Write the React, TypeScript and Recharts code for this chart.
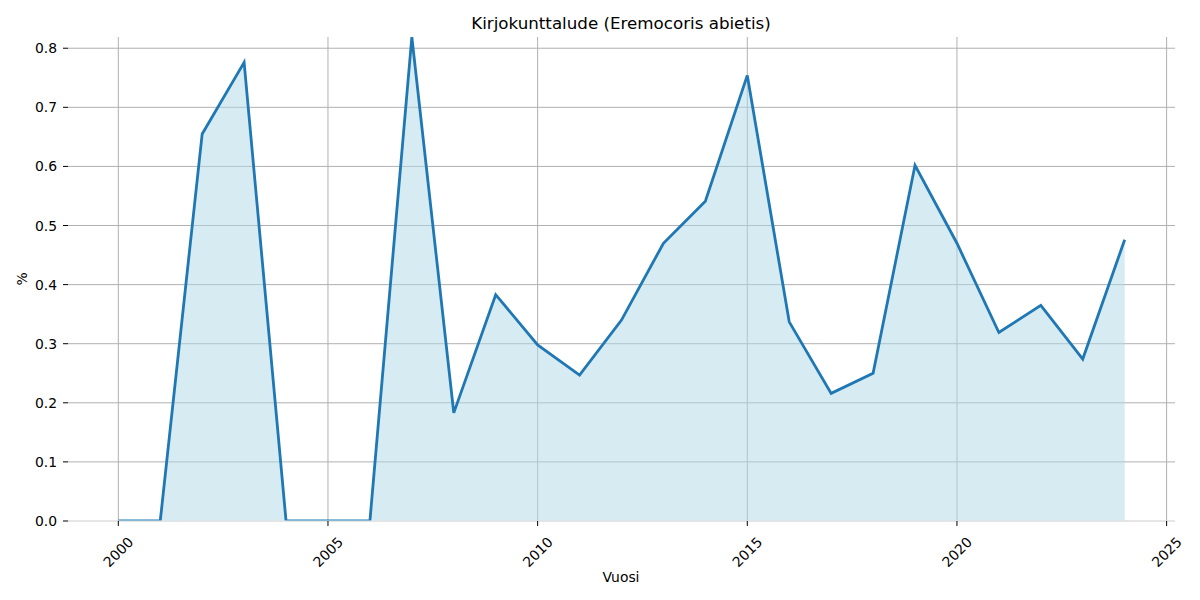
import React from "react";
import { ComposedChart, Area, XAxis, YAxis, CartesianGrid } from "recharts";

const years = [2000,2001,2002,2003,2004,2005,2006,2007,2008,2009,2010,2011,2012,2013,2014,2015,2016,2017,2018,2019,2020,2021,2022,2023,2024];
const values = [0,0,0.655,0.776,0,0,0,0.819,0.183,0.383,0.298,0.247,0.34,0.47,0.541,0.754,0.337,0.216,0.25,0.602,0.47,0.319,0.365,0.274,0.476];
const xTicks = [2000,2005,2010,2015,2020,2025];
const yTicks = [0,0.1,0.2,0.3,0.4,0.5,0.6,0.7,0.8];
const title = "Kirjokunttalude (Eremocoris abietis)";
const xLabel = "Vuosi";
const yLabel = "%";

const data = years.map((y, i) => ({ year: y, value: values[i] }));

const FONT = "DejaVu Sans";

const XTick = (props: any) => {
  const { x, y, payload } = props;
  const cx = x;
  const cy = y + 24;
  return (
    <text
      x={cx}
      y={cy}
      textAnchor="middle"
      dominantBaseline="central"
      transform={`rotate(-45 ${cx} ${cy})`}
      fontFamily={FONT}
      fontSize={13.9}
      fill="#000"
    >
      {payload.value}
    </text>
  );
};

const YTick = (props: any) => {
  const { x, y, payload } = props;
  return (
    <text x={x} y={y} textAnchor="end" dominantBaseline="central" fontFamily={FONT} fontSize={13.9} fill="#000">
      {Number(payload.value).toFixed(1)}
    </text>
  );
};

export default function App() {
  return (
    <div style={{ position: "absolute", left: 0, top: 0, width: 1200, height: 600, background: "#fff" }}>
      <ComposedChart
        width={1200}
        height={600}
        data={data}
        margin={{ top: 37, right: 25, bottom: 19, left: 0 }}
      >
        <CartesianGrid stroke="#b0b0b0" strokeWidth={1} syncWithTicks />
        <XAxis
          dataKey="year"
          type="number"
          domain={[1998.8, 2025.2]}
          ticks={xTicks}
          allowDataOverflow
          axisLine={{ stroke: "#f4f4f4" }}
          tickLine={{ stroke: "#000" }}
          tickSize={5}
          height={60}
          tick={<XTick />}
          interval={0}
        />
        <YAxis
          type="number"
          domain={[0, 0.819]}
          ticks={yTicks}
          allowDataOverflow
          axisLine={false}
          tickLine={{ stroke: "#000" }}
          tickSize={5}
          tickMargin={6}
          width={68}
          tick={<YTick />}
          interval={0}
        />
        <Area
          type="linear"
          dataKey="value"
          stroke="#1f77b4"
          strokeWidth={2.8}
          fill="#add8e6"
          fillOpacity={0.5}
          isAnimationActive={false}
          dot={false}
          activeDot={false}
        />
        <text x={621} y={23} textAnchor="middle" dominantBaseline="central" fontFamily={FONT} fontSize={16.7} fill="#000">
          {title}
        </text>
        <text x={621} y={577} textAnchor="middle" dominantBaseline="central" fontFamily={FONT} fontSize={13.9} fill="#000">
          {xLabel}
        </text>
        <text x={22} y={279} textAnchor="middle" dominantBaseline="central" transform="rotate(-90 22 279)" fontFamily={FONT} fontSize={13.9} fill="#000">
          {yLabel}
        </text>
      </ComposedChart>
    </div>
  );
}
